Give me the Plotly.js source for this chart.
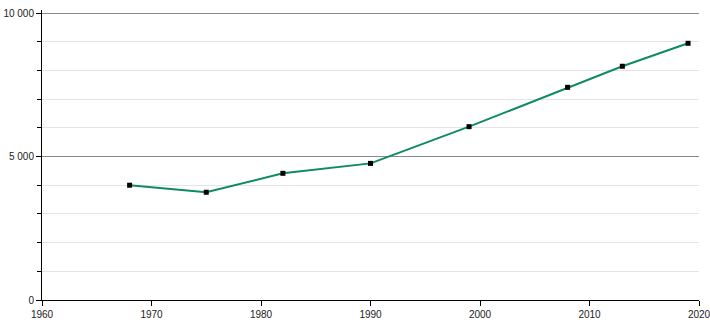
<!DOCTYPE html>
<html><head><meta charset="utf-8">
<script src="https://cdn.plot.ly/plotly-3.0.1.min.js"></script>
<style>html,body{margin:0;padding:0;background:#fff}#c{width:710px;height:320px}</style>
</head><body><div id="c"></div>
<script>
const years = [1968, 1975, 1982, 1990, 1999, 2008, 2013, 2019];
const population = [4000, 3755, 4415, 4760, 6040, 7410, 8145, 8945];

Plotly.newPlot('c', [{
  x: years, y: population, type: 'scatter', mode: 'lines+markers',
  line: {color: '#0e8a66', width: 2},
  marker: {symbol: 'square', size: 5, color: '#000'},
  hoverinfo: 'x+y'
}], {
  width: 710, height: 320,
  margin: {l: 42, r: 11, t: 10, b: 20},
  paper_bgcolor: '#fff', plot_bgcolor: '#fff',
  separators: '. ',
  showlegend: false,
  font: {family: 'Liberation Sans, Arial, sans-serif', size: 10, color: '#222'},
  xaxis: {
    range: [1960, 2020], dtick: 10, tick0: 1960, showgrid: false, zeroline: false,
    showline: true, linecolor: '#000', linewidth: 1, ticklabeloverflow: 'allow',
    ticks: 'outside', ticklen: 5, tickcolor: '#000', tickformat: 'd'
  },
  yaxis: {
    range: [0, 10105], dtick: 5000, tick0: 0, zeroline: false,
    showgrid: true, gridcolor: '#8a8a8a', gridwidth: 1,
    showline: true, linecolor: '#000', linewidth: 1, ticklabeloverflow: 'allow',
    ticks: 'outside', ticklen: 5, tickcolor: '#000', tickformat: ',d',
    minor: {dtick: 1000, showgrid: true, gridcolor: '#e4e4e4', ticks: 'outside', ticklen: 4, tickcolor: '#000'}
  }
}, {displayModeBar: false, staticPlot: true});
</script></body></html>
